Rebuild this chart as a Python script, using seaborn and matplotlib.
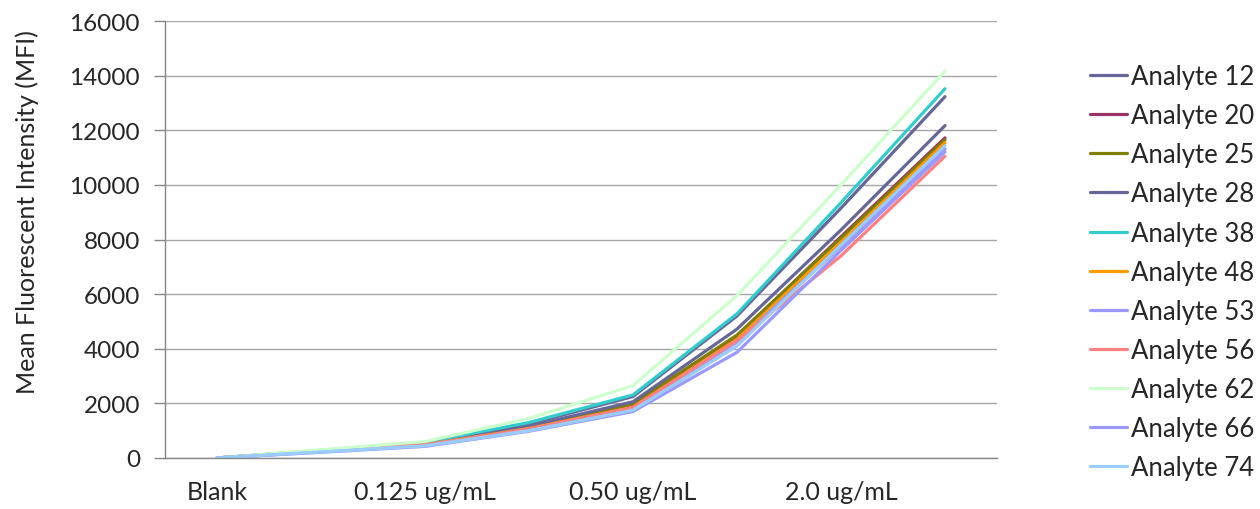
import matplotlib
matplotlib.use("Agg")
import matplotlib.pyplot as plt
import numpy as np
import pandas as pd
import seaborn as sns

# concentrations on the x axis (only every other one is labelled in the chart)
concentrations = ["Blank", "0.0625 ug/mL", "0.125 ug/mL", "0.25 ug/mL",
                  "0.50 ug/mL", "1.0 ug/mL", "2.0 ug/mL", "4.0 ug/mL"]
shown_labels = ["Blank", "", "0.125 ug/mL", "", "0.50 ug/mL", "", "2.0 ug/mL", ""]

analytes = ["Analyte 12", "Analyte 20", "Analyte 25", "Analyte 28", "Analyte 38",
            "Analyte 48", "Analyte 53", "Analyte 56", "Analyte 62", "Analyte 66",
            "Analyte 74"]

a12 = [0, 270, 545, 1250, 2250, 5200, 9150, 13230]
a20 = [0, 250, 505, 1110, 1960, 4450, 8100, 11720]
a25 = [0, 250, 510, 1130, 1990, 4500, 8050, 11650]
a28 = [0, 260, 525, 1160, 2060, 4720, 8350, 12170]
a38 = [0, 285, 575, 1300, 2310, 5280, 9350, 13520]
a48 = [0, 240, 485, 1080, 1860, 4350, 7900, 11540]
a53 = [0, 230, 465, 1050, 1800, 4250, 7750, 11320]
a56 = [0, 240, 475, 1060, 1850, 4300, 7400, 11050]
a62 = [0, 300, 605, 1450, 2650, 5950, 10000, 14170]
a66 = [0, 210, 425, 980, 1700, 3870, 7600, 11210]
a74 = [0, 220, 445, 1000, 1750, 4100, 7800, 11430]

series = [a12, a20, a25, a28, a38, a48, a53, a56, a62, a66, a74]
colors = ["#666699", "#993366", "#808000", "#666699", "#33CCCC", "#FF9900",
          "#9999FF", "#FF8080", "#CCFFCC", "#9999FF", "#99CCFF"]

df = pd.DataFrame(
    [(name, i, c, v) for name, vals in zip(analytes, series)
     for i, (c, v) in enumerate(zip(concentrations, vals))],
    columns=["analyte", "pos", "conc", "mfi"],
)

sns.set_theme(style="white")
plt.rcParams["font.family"] = ["Lato", "DejaVu Sans"]

fig = plt.figure(figsize=(12.6, 5.1), dpi=100)
ax = fig.add_axes([165 / 1260, 51 / 510, 832 / 1260, 437 / 510])

sns.lineplot(data=df, x="pos", y="mfi", hue="analyte", hue_order=analytes,
             palette=dict(zip(analytes, colors)), linewidth=2.3, sort=False,
             legend=False, ax=ax)

ax.set_xlim(-0.5, len(concentrations) - 0.5)
ax.set_ylim(0, 16000)
ax.set_yticks(np.arange(0, 16001, 2000))
ax.set_yticklabels([str(v) for v in range(0, 16001, 2000)], fontsize=17.5)
ax.yaxis.grid(True, color="#a6a6a6", linewidth=1.0)
ax.set_axisbelow(True)

ax.set_xticks(np.arange(len(concentrations)))
ax.set_xticklabels(shown_labels, fontsize=18)
ax.set_xticks(np.arange(len(concentrations) + 1) - 0.5, minor=True)
ax.tick_params(axis="x", which="major", length=0, pad=16)
ax.tick_params(axis="x", which="minor", length=8, color="#868686", width=1)
ax.tick_params(axis="y", length=8, color="#868686", width=1, pad=10, left=True)

for side in ["top", "right"]:
    ax.spines[side].set_visible(False)
for side in ["left", "bottom"]:
    ax.spines[side].set_color("#868686")
    ax.spines[side].set_linewidth(1.0)

ax.set_xlabel("")
ax.set_ylabel("Mean Fluorescent Intensity (MFI)", fontsize=18)
ax.yaxis.set_label_coords(-0.152, 0.565)

handles = [plt.Line2D([], [], color=c, linewidth=2.3) for c in colors]
fig.legend(handles, analytes, loc="upper left", bbox_to_anchor=(1090 / 1260, 1 - 65 / 510),
           frameon=False, fontsize=18.5, handlelength=1.45, handletextpad=0.15,
           labelspacing=0.55, borderaxespad=0, borderpad=0)

fig.savefig("out.png", dpi=100)
